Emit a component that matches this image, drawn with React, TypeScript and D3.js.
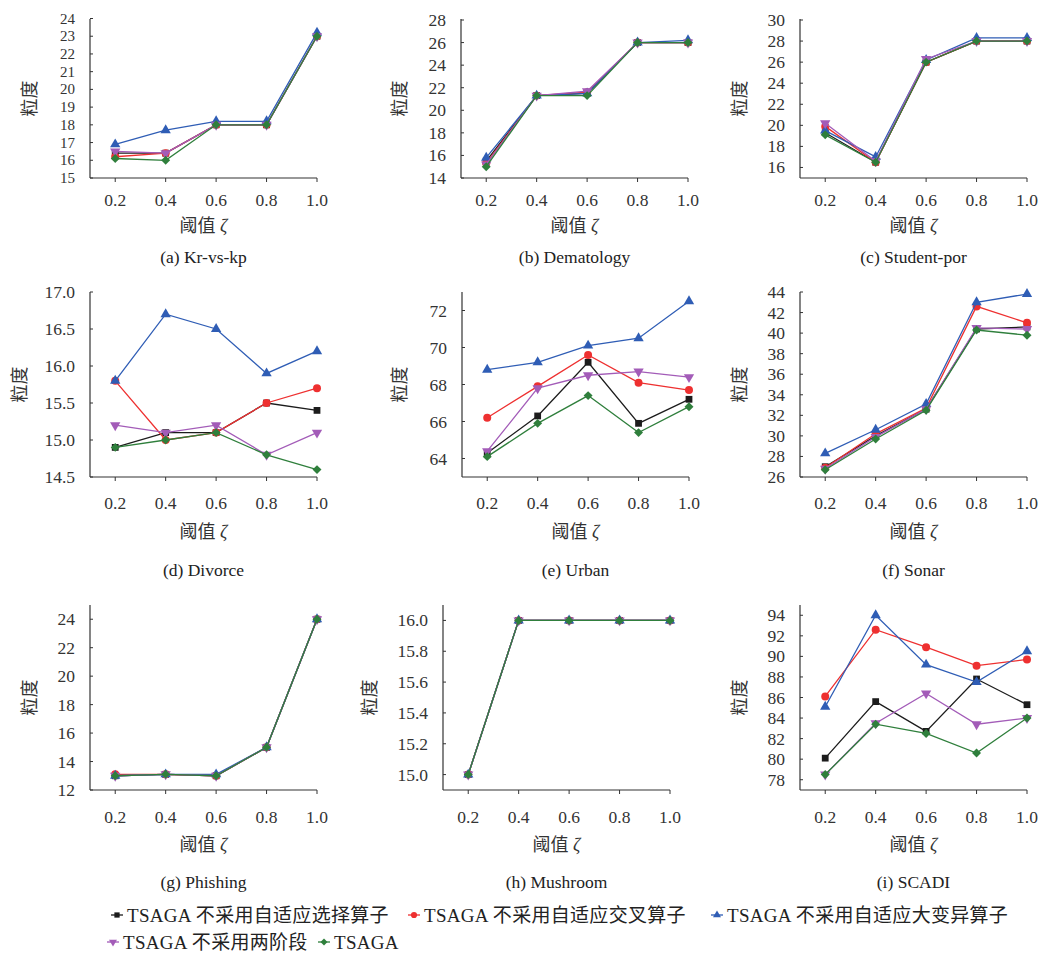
import React from 'react';
import * as d3 from 'd3';

// thresholds on the x axis
const thresholds = [0.2, 0.4, 0.6, 0.8, 1.0];

const seriesNames = [
  'TSAGA 不采用自适应选择算子',
  'TSAGA 不采用自适应交叉算子',
  'TSAGA 不采用自适应大变异算子',
  'TSAGA 不采用两阶段',
  'TSAGA',
];
const seriesColors = ['#1c1c1c', '#ee3030', '#2f5db5', '#a35cb8', '#2f7f3c'];
const seriesShapes = ['square', 'circle', 'triangle', 'triangleDown', 'diamond'];

// each panel: rows = select, crossover, mutation, two-stage, TSAGA
const krVsKp = [
  [16.4, 16.4, 18.0, 18.0, 23.0],
  [16.2, 16.4, 18.0, 18.0, 23.0],
  [16.9, 17.7, 18.2, 18.2, 23.2],
  [16.5, 16.4, 18.0, 18.0, 23.0],
  [16.1, 16.0, 18.0, 18.0, 23.0],
];
const dematology = [
  [15.5, 21.3, 21.5, 26.0, 26.0],
  [15.3, 21.3, 21.6, 26.0, 26.0],
  [15.8, 21.3, 21.5, 26.0, 26.2],
  [15.2, 21.3, 21.7, 26.0, 26.0],
  [15.0, 21.3, 21.3, 26.0, 26.0],
];
const studentPor = [
  [19.3, 16.5, 26.0, 28.0, 28.0],
  [19.9, 16.5, 26.0, 28.0, 28.0],
  [19.5, 17.0, 26.2, 28.3, 28.3],
  [20.2, 16.6, 26.3, 28.0, 28.0],
  [19.1, 16.5, 26.0, 28.0, 28.0],
];
const divorce = [
  [14.9, 15.1, 15.1, 15.5, 15.4],
  [15.8, 15.0, 15.1, 15.5, 15.7],
  [15.8, 16.7, 16.5, 15.9, 16.2],
  [15.2, 15.1, 15.2, 14.8, 15.1],
  [14.9, 15.0, 15.1, 14.8, 14.6],
];
const urban = [
  [64.3, 66.3, 69.2, 65.9, 67.2],
  [66.2, 67.9, 69.6, 68.1, 67.7],
  [68.8, 69.2, 70.1, 70.5, 72.5],
  [64.4, 67.8, 68.5, 68.7, 68.4],
  [64.1, 65.9, 67.4, 65.4, 66.8],
];
const sonar = [
  [27.0, 30.0, 32.6, 40.4, 40.6],
  [26.9, 30.2, 32.7, 42.6, 41.0],
  [28.3, 30.6, 33.1, 43.0, 43.8],
  [26.8, 29.9, 32.6, 40.5, 40.4],
  [26.7, 29.7, 32.5, 40.3, 39.8],
];
const phishing = [
  [13.0, 13.1, 13.0, 15.0, 24.0],
  [13.1, 13.1, 13.0, 15.0, 24.0],
  [13.0, 13.1, 13.1, 15.0, 24.0],
  [13.0, 13.1, 13.0, 15.0, 24.0],
  [13.0, 13.1, 13.0, 15.0, 24.0],
];
const mushroom = [
  [15.0, 16.0, 16.0, 16.0, 16.0],
  [15.0, 16.0, 16.0, 16.0, 16.0],
  [15.0, 16.0, 16.0, 16.0, 16.0],
  [15.0, 16.0, 16.0, 16.0, 16.0],
  [15.0, 16.0, 16.0, 16.0, 16.0],
];
const scadi = [
  [80.1, 85.6, 82.7, 87.8, 85.3],
  [86.1, 92.6, 90.9, 89.1, 89.7],
  [85.1, 94.0, 89.2, 87.5, 90.5],
  [78.5, 83.5, 86.4, 83.4, 84.0],
  [78.5, 83.4, 82.5, 80.6, 84.0],
];

// tick labels
const krTicks = [15, 16, 17, 18, 19, 20, 21, 22, 23, 24];
const demTicks = [14, 16, 18, 20, 22, 24, 26, 28];
const stuTicks = [16, 18, 20, 22, 24, 26, 28, 30];
const divTicks = [14.5, 15.0, 15.5, 16.0, 16.5, 17.0];
const urbTicks = [64, 66, 68, 70, 72];
const sonTicks = [26, 28, 30, 32, 34, 36, 38, 40, 42, 44];
const phiTicks = [12, 14, 16, 18, 20, 22, 24];
const musTicks = [15.0, 15.2, 15.4, 15.6, 15.8, 16.0];
const scaTicks = [78, 80, 82, 84, 86, 88, 90, 92, 94];

const FONT = "'Liberation Serif', 'Times New Roman', 'Noto Sans CJK SC', serif";
const TEXT = '#333';

// row geometry: axis top, axis bottom, tick label y, axis title y, caption y
const rows = [
  { top: 19, bottom: 178, lab: 200, title: 226, cap: 257 },
  { top: 292, bottom: 477, lab: 503, title: 532, cap: 570 },
  { top: 605, bottom: 790, lab: 817, title: 845, cap: 882 },
];

const panels = [
  { cap: '(a) Kr-vs-kp', data: krVsKp, dom: [15, 24], ticks: krTicks, fmt: 'd', row: 0, x0: 90, yt: 30, top: 18.5, fs: 15 },
  { cap: '(b) Dematology', data: dematology, dom: [14, 28], ticks: demTicks, fmt: 'd', row: 0, x0: 461, yt: 400, top: 20 },
  { cap: '(c) Student-por', data: studentPor, dom: [15, 30], ticks: stuTicks, fmt: 'd', row: 0, x0: 800, yt: 740, top: 20 },
  { cap: '(d) Divorce', data: divorce, dom: [14.5, 17], ticks: divTicks, fmt: '.1f', row: 1, x0: 90, yt: 20 },
  { cap: '(e) Urban', data: urban, dom: [63, 73], ticks: urbTicks, fmt: 'd', row: 1, x0: 462, yt: 400 },
  { cap: '(f) Sonar', data: sonar, dom: [26, 44], ticks: sonTicks, fmt: 'd', row: 1, x0: 800, yt: 740 },
  { cap: '(g) Phishing', data: phishing, dom: [12, 25], ticks: phiTicks, fmt: 'd', row: 2, x0: 90, yt: 30 },
  { cap: '(h) Mushroom', data: mushroom, dom: [14.9, 16.1], ticks: musTicks, fmt: '.1f', row: 2, x0: 443, yt: 370 },
  { cap: '(i) SCADI', data: scadi, dom: [77, 95], ticks: scaTicks, fmt: 'd', row: 2, x0: 800, yt: 740 },
];

const symbolPath = (shape: string, k = 1) => {
  if (shape === 'circle') return d3.symbol(d3.symbolCircle, 50 * k)();
  if (shape === 'triangle' || shape === 'triangleDown') return d3.symbol(d3.symbolTriangle, 46 * k)();
  if (shape === 'diamond') return d3.symbol(d3.symbolSquare, 40 * k)();
  return d3.symbol(d3.symbolSquare, 46 * k)();
};
const symbolRotate = (shape: string) =>
  shape === 'triangleDown' ? 180 : shape === 'diamond' ? 45 : 0;

const Marker = ({ shape, x, y, color, k = 1 }: any) => (
  <path
    d={symbolPath(shape, k) as string}
    transform={`translate(${x},${y}) rotate(${symbolRotate(shape)})`}
    fill={color}
  />
);

const Panel = ({ p }: any) => {
  const r = rows[p.row];
  const x = d3.scaleLinear().domain([0.1, 1.0]).range([p.x0, p.x0 + 227]);
  const y = d3.scaleLinear().domain(p.dom).range([r.bottom, p.top ?? r.top]);
  const fmt = d3.format(p.fmt);
  const line = d3
    .line<number>()
    .x((_, i) => x(thresholds[i]))
    .y((v) => y(v));
  const xMid = (x.range()[0] + x.range()[1]) / 2;
  const yMid = (r.top + r.bottom) / 2;
  return (
    <g>
      {/* series */}
      {p.data.map((vals: number[], s: number) => (
        <g key={s}>
          <path d={line(vals) as string} fill="none" stroke={seriesColors[s]} strokeWidth={1.3} />
          {vals.map((v, i) => (
            <Marker key={i} shape={seriesShapes[s]} x={x(thresholds[i])} y={y(v)} color={seriesColors[s]} />
          ))}
        </g>
      ))}
      {/* y axis */}
      <line x1={p.x0} x2={p.x0} y1={r.bottom} y2={r.top} stroke="#333" strokeWidth={1.2} />
      {p.ticks.map((t: number) => (
        <g key={t}>
          <line x1={p.x0} x2={p.x0 + 3} y1={y(t)} y2={y(t)} stroke="#333" strokeWidth={1} />
          <text
            x={p.x0 - 15}
            y={y(t)}
            textAnchor="end"
            dominantBaseline="central"
            fontSize={p.fs ?? 17.5}
            fill={TEXT}
          >
            {fmt(t)}
          </text>
        </g>
      ))}
      {/* x axis */}
      <line x1={p.x0} x2={p.x0 + 227} y1={r.bottom} y2={r.bottom} stroke="#333" strokeWidth={1.2} />
      {thresholds.map((t) => (
        <g key={t}>
          <line x1={x(t)} x2={x(t)} y1={r.bottom} y2={r.bottom + 4} stroke="#333" strokeWidth={1} />
          <text x={x(t)} y={r.lab} textAnchor="middle" dominantBaseline="central" fontSize={17.5} fill={TEXT}>
            {d3.format('.1f')(t)}
          </text>
        </g>
      ))}
      <text x={xMid} y={r.title} textAnchor="middle" dominantBaseline="central" fontSize={18} fill={TEXT}>
        阈值 <tspan fontStyle="italic">ζ</tspan>
      </text>
      <text
        transform={`translate(${p.yt},${yMid}) rotate(-90)`}
        textAnchor="middle"
        dominantBaseline="central"
        fontSize={18}
        fill={TEXT}
      >
        粒度
      </text>
      <text x={xMid} y={r.cap} textAnchor="middle" dominantBaseline="central" fontSize={17.5} fill="#222">
        {p.cap}
      </text>
    </g>
  );
};

// legend item placement
const legendPos = [
  { x: 117, y: 915 },
  { x: 414, y: 915 },
  { x: 717, y: 915 },
  { x: 113, y: 942 },
  { x: 324, y: 942 },
];

export default function App() {
  return (
    <svg
      width={1045}
      height={956}
      style={{ position: 'absolute', left: 0, top: 0, background: '#fff' }}
      fontFamily={FONT}
    >
      <rect width={1045} height={956} fill="#fff" />
      {panels.map((p) => (
        <Panel key={p.cap} p={p} />
      ))}
      {seriesNames.map((name, s) => (
        <g key={name} transform={`translate(${legendPos[s].x},${legendPos[s].y})`}>
          <line x1={-6} x2={6} y1={0} y2={0} stroke={seriesColors[s]} strokeWidth={1.3} />
          <Marker shape={seriesShapes[s]} x={0} y={0} color={seriesColors[s]} k={0.6} />
          <text x={10} y={0} dominantBaseline="central" fontSize={19} letterSpacing={0.3} fill="#222">
            {name}
          </text>
        </g>
      ))}
    </svg>
  );
}
